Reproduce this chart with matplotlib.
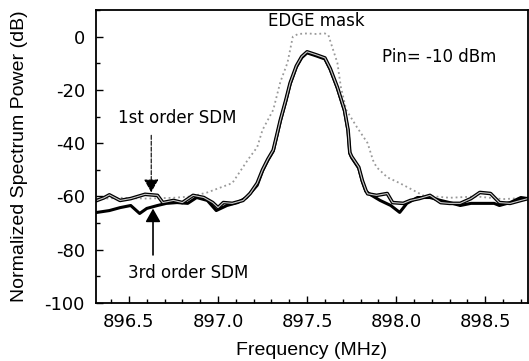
import matplotlib
matplotlib.use("Agg")
import matplotlib.pyplot as plt
from matplotlib.ticker import MultipleLocator

plt.rcParams["font.family"] = ["Liberation Sans", "DejaVu Sans"]
plt.rcParams["axes.unicode_minus"] = False

# peak shared by both SDM curves (MHz, dB)
peak_f = [897.25, 897.28, 897.31, 897.33, 897.35, 897.38, 897.405, 897.44, 897.47,
          897.50, 897.55, 897.60, 897.63, 897.67, 897.71, 897.73, 897.74, 897.75,
          897.79, 897.81, 897.83]
peak_p = [-50.0, -46.0, -42.6, -37.0, -31.3, -24.0, -17.4, -11.0, -7.5,
          -5.7, -6.8, -8.0, -12.0, -19.0, -27.5, -35.0, -43.5, -45.0,
          -49.0, -54.0, -57.7]

# 1st order SDM
sdm1_left_f = [896.32, 896.36, 896.39, 896.45, 896.51, 896.59, 896.66, 896.69, 896.75,
               896.80, 896.86, 896.92, 896.97, 897.00, 897.03, 897.08, 897.14, 897.18, 897.22]
sdm1_left_p = [-61.5, -60.5, -59.4, -61.5, -60.8, -59.2, -59.6, -62.3, -61.5,
               -62.3, -59.6, -60.4, -62.3, -64.2, -62.3, -62.6, -61.5, -58.9, -55.0]
sdm1_right_f = [897.84, 897.89, 897.95, 897.98, 898.04, 898.08, 898.13, 898.19, 898.25,
                898.30, 898.36, 898.42, 898.47, 898.53, 898.58, 898.64, 898.70, 898.74]
sdm1_right_p = [-59.0, -59.6, -58.9, -62.3, -62.6, -61.5, -60.8, -59.6, -62.3,
                -62.6, -62.6, -60.8, -58.5, -58.9, -62.3, -62.6, -61.5, -60.8]

# 3rd order SDM
sdm3_left_f = [896.32, 896.39, 896.45, 896.51, 896.56, 896.60, 896.66, 896.71, 896.77,
               896.83, 896.88, 896.94, 896.99, 897.05, 897.11, 897.16, 897.22]
sdm3_left_p = [-66.0, -65.3, -64.2, -63.4, -66.4, -64.5, -63.4, -62.6, -62.3,
               -62.6, -60.4, -61.5, -65.3, -63.4, -62.3, -60.4, -55.8]
sdm3_right_f = [897.86, 897.91, 897.97, 898.02, 898.06, 898.12, 898.19, 898.25, 898.30,
                898.36, 898.42, 898.49, 898.55, 898.58, 898.64, 898.70, 898.74]
sdm3_right_p = [-59.5, -61.5, -63.4, -66.0, -62.6, -60.4, -60.4, -61.5, -62.3,
                -63.4, -62.6, -62.6, -62.6, -63.4, -62.3, -60.4, -60.8]

# EDGE mask (dotted)
mask_f = [896.32, 896.45, 896.60, 896.75, 896.85, 896.94, 897.00, 897.08, 897.12,
          897.17, 897.22, 897.25, 897.31, 897.35, 897.39, 897.42, 897.45, 897.50,
          897.55, 897.60, 897.62, 897.64, 897.67, 897.69, 897.72, 897.78, 897.84,
          897.87, 897.89, 897.95, 898.02, 898.12, 898.15, 898.30, 898.45, 898.60, 898.74]
mask_p = [-61.0, -60.5, -60.8, -60.5, -60.0, -58.5, -57.0, -55.0, -51.0,
          -46.0, -41.5, -35.0, -27.5, -17.0, -9.8, 0.0, 1.0, 1.2,
          1.0, 1.2, 0.5, -3.7, -9.8, -19.0, -27.5, -34.0, -40.0,
          -46.4, -49.0, -52.8, -55.0, -58.5, -59.6, -60.5, -60.0, -61.0, -60.5]

sdm1_f = sdm1_left_f + peak_f + sdm1_right_f
sdm1_p = sdm1_left_p + peak_p + sdm1_right_p
sdm3_f = sdm3_left_f + peak_f + sdm3_right_f
sdm3_p = sdm3_left_p + [p - 0.4 for p in peak_p] + sdm3_right_p

fig = plt.figure(figsize=(5.29, 3.61), dpi=100)
ax = fig.add_axes([0.1815, 0.1607, 0.8165, 0.8116])

ax.plot(mask_f, mask_p, color="#999999", linestyle=":", linewidth=1.3)
ax.plot(sdm3_f, sdm3_p, color="black", linewidth=2.2)
ax.plot(sdm1_f, sdm1_p, color="black", linewidth=2.6)
ax.plot(sdm1_f, sdm1_p, color="#c8c8c8", linewidth=0.8)

# arrows with filled triangle heads
ax.annotate("", xy=(896.625, -59.5), xytext=(896.625, -36),
            arrowprops=dict(arrowstyle="-|>,head_length=0.8,head_width=0.45",
                            color="black", lw=0.8, linestyle="--"))
ax.annotate("", xy=(896.635, -63.5), xytext=(896.635, -83),
            arrowprops=dict(arrowstyle="-|>,head_length=0.8,head_width=0.45",
                            color="black", lw=1.2))

txt = dict(ha="center", va="center", fontsize=12, family="DejaVu Sans")
ax.text(896.77, -30.5, "1st order SDM", **txt)
ax.text(896.83, -88.7, "3rd order SDM", **txt)
ax.text(897.55, 6.0, "EDGE mask", **txt)
ax.text(897.92, -7.5, "Pin= -10 dBm", ha="left", va="center", fontsize=12,
        family="DejaVu Sans")

ax.set_xlim(896.315, 898.74)
ax.set_ylim(-100, 10)
ax.set_yticks([0, -20, -40, -60, -80, -100])
ax.set_xticks([896.5, 897.0, 897.5, 898.0, 898.5])
ax.set_xticklabels(["896.5", "897.0", "897.5", "898.0", "898.5"])
ax.xaxis.set_minor_locator(MultipleLocator(0.1))
ax.yaxis.set_minor_locator(MultipleLocator(10))
ax.tick_params(which="both", direction="in", labelsize=13, width=1.0)
ax.tick_params(which="major", length=5)
ax.tick_params(which="minor", length=3)
ax.tick_params(axis="x", pad=7)
ax.tick_params(axis="y", pad=8)
for lbl in ax.get_xticklabels() + ax.get_yticklabels():
    lbl.set_family("DejaVu Sans")
for s in ax.spines.values():
    s.set_linewidth(1.3)

ax.set_xlabel("Frequency (MHz)", fontsize=14, labelpad=8)
ax.set_ylabel("Normalized Spectrum Power (dB)", fontsize=14, labelpad=12)

fig.savefig("out.png", dpi=100)
